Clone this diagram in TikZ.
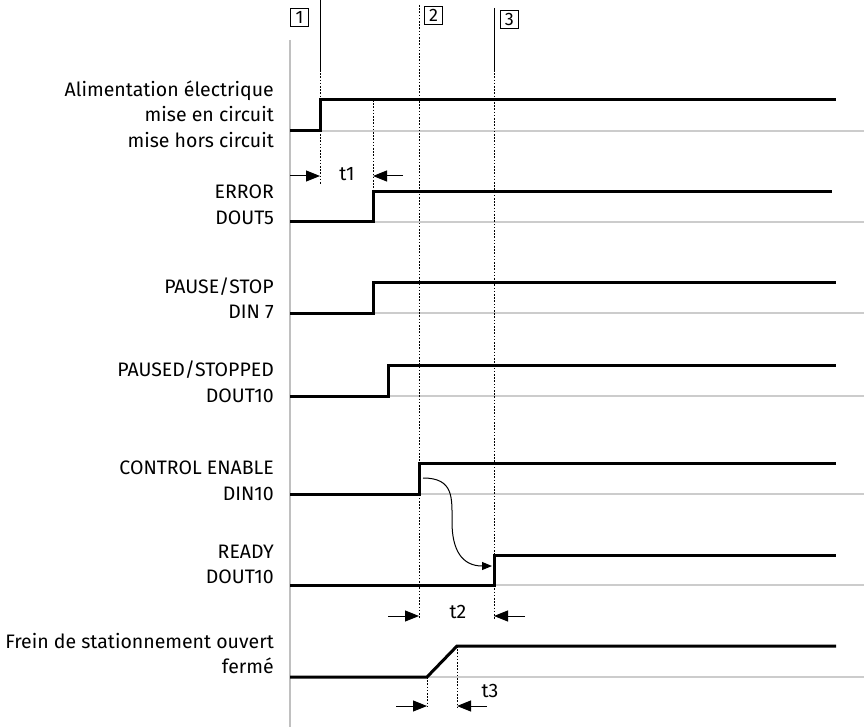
\documentclass[tikz,border=0pt]{standalone}
\usepackage{fontspec}
\setmainfont{Fira Sans}
\usetikzlibrary{arrows.meta}
\definecolor{axisgray}{RGB}{192,192,192}
\definecolor{basegray}{RGB}{204,204,204}
\begin{document}
\begin{tikzpicture}[x=1pt,y=-1pt,
  lbl/.style={anchor=base east, inner sep=0pt, font=\fontsize{19.5}{23}\selectfont},
  sig/.style={line width=3pt, line join=miter},
  baseline/.style={basegray, line width=1.8pt},
  dots/.style={line width=1pt, dash pattern=on 1.6pt off 1.6pt},
  thinline/.style={line width=1pt},
  dimarr/.style={line width=1pt, -{Triangle[length=14pt,width=11pt]}},
  numbox/.style={draw, line width=0.9pt, minimum size=18pt, inner sep=0pt, font=\fontsize{18}{18}\selectfont, anchor=north west},
  tlbl/.style={font=\fontsize{19.5}{23}\selectfont, inner sep=0pt}
]
\useasboundingbox (0,0) rectangle (864,727);
% axis
\draw[axisgray, line width=2.2pt] (290,40) -- (290,727);
% baselines
\foreach \y in {131,222,313,396,494,585,677}
  \draw[baseline] (290,\y) -- (864,\y);
% labels
\node[lbl] (l1a) at (274,97) {Alimentation électrique};
\node[lbl] (l1b) at (274,122) {mise en circuit};
\node[lbl] (l1c) at (274,148) {mise hors circuit};
\node[lbl] (l2a) at (274,199) {ERROR};
\node[lbl] (l2b) at (274,225) {DOUT5};
\node[lbl] (l3a) at (274,293) {PAUSE/STOP};
\node[lbl] (l3b) at (274,318) {DIN 7};
\node[lbl] (l4a) at (274,376) {PAUSED/STOPPED};
\node[lbl] (l4b) at (274,402) {DOUT10};
\node[lbl] (l5a) at (274,474) {CONTROL ENABLE};
\node[lbl] (l5b) at (274,500) {DIN10};
\node[lbl] (l6a) at (274,558) {READY};
\node[lbl] (l6b) at (274,583) {DOUT10};
\node[lbl] (l7a) at (274,648) {Frein de stationnement ouvert};
\node[lbl] (l7b) at (274,673) {fermé};
% vertical marker lines
\draw[thinline] (320,0) -- (320,70);
\draw[dots] (320,70) -- (320,185);
\draw[dots] (373,100) -- (373,192);
\draw[dots] (419,5) -- (419,619);
\draw[thinline] (494,8) -- (494,70);
\draw[dots] (494,70) -- (494,619);
\draw[dots] (427,677) -- (427,708);
\draw[dots] (457,646) -- (457,708);
% number boxes
\node[numbox] (n1) at (290,8) {1};
\node[numbox] (n2) at (424,6) {2};
\node[numbox] (n3) at (500,10) {3};
% signals
\draw[sig] (290,131) -- (320,131) -- (320,100) -- (836,100);
\draw[sig] (290,222) -- (373,222) -- (373,192) -- (832,192);
\draw[sig] (290,313) -- (373,313) -- (373,282) -- (836,282);
\draw[sig] (290,396) -- (388,396) -- (388,365) -- (836,365);
\draw[sig] (290,494) -- (419,494) -- (419,463) -- (836,463);
\draw[sig] (290,585) -- (494,585) -- (494,555) -- (836,555);
\draw[sig] (290,677) -- (427,677) -- (457,646) -- (836,646);
% dimension arrows
\coordinate (a1s) at (290,176); \coordinate (a1e) at (320,176);
\coordinate (b1s) at (403,176); \coordinate (b1e) at (373,176);
\draw[dimarr] (a1s) -- (a1e);
\draw[dimarr] (b1s) -- (b1e);
\node[tlbl] (t1) at (347,174) {t1};
\coordinate (a2s) at (388,616); \coordinate (a2e) at (419,616);
\coordinate (b2s) at (525,616); \coordinate (b2e) at (494,616);
\draw[dimarr] (a2s) -- (a2e);
\draw[dimarr] (b2s) -- (b2e);
\node[tlbl] (t2) at (458,612) {t2};
\coordinate (a3s) at (396,706); \coordinate (a3e) at (427,706);
\coordinate (b3s) at (487,706); \coordinate (b3e) at (457,706);
\draw[dimarr] (a3s) -- (a3e);
\draw[dimarr] (b3s) -- (b3e);
\node[tlbl] (t3) at (490,691) {t3};
% causal curved arrow
\coordinate (cs) at (423,478);
\coordinate (ce) at (492,566);
\draw[line width=1pt, -{Triangle[length=10pt,width=8pt]}] (cs) .. controls (454,478) and (452,498) .. (452,522) .. controls (452,550) and (462,566) .. (ce);
\end{tikzpicture}
\end{document}
